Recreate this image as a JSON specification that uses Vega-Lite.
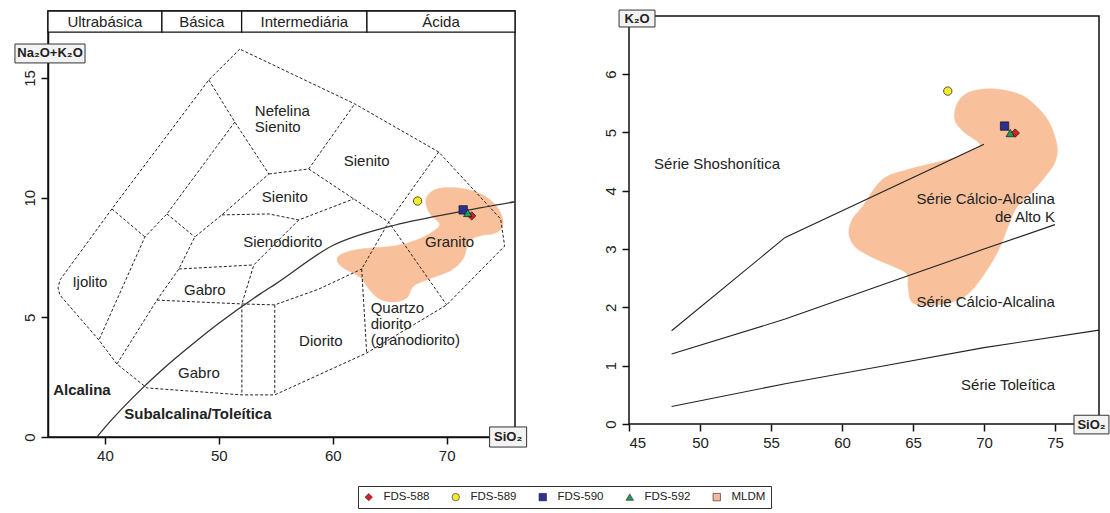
{
  "$schema": "https://vega.github.io/schema/vega-lite/v6.json",
  "background": "white",
  "padding": {"left": 13, "top": 9, "right": 3, "bottom": 6},
  "bounds": "flush",
  "spacing": 114,
  "config": {
    "font": "Liberation Sans, Arial, sans-serif",
    "view": {"stroke": "#111", "strokeWidth": 1.5},
    "axis": {"grid": false, "title": null, "domainColor": "#111", "domainWidth": 1.5, "tickColor": "#111", "tickWidth": 1.5, "tickSize": 7, "labelFontSize": 15, "labelColor": "#222", "labelPadding": 4},
    "text": {"fontSize": 15, "color": "#222"},
    "legend": {"orient": "none", "legendX": 310, "legendY": 475, "direction": "horizontal", "title": null, "strokeColor": "#333", "strokeWidth": 1, "padding": 5, "labelFontSize": 11.5, "labelColor": "#222", "symbolSize": 55, "columnPadding": 20, "labelOffset": 9, "symbolStrokeWidth": 0.6, "symbolStrokeColor": "#222"}
  },
  "datasets": {
    "pts": [
      {"amostra": "FDS-588", "sio2": 72.2, "alk": 9.24, "k2o": 4.99},
      {"amostra": "FDS-589", "sio2": 67.45, "alk": 9.86, "k2o": 5.71},
      {"amostra": "FDS-590", "sio2": 71.45, "alk": 9.49, "k2o": 5.11},
      {"amostra": "FDS-592", "sio2": 71.85, "alk": 9.36, "k2o": 4.99}
    ],
    "tas_dash": [
      {"seg": "S1", "i": 1, "x": 51.84, "y": 16.21}, {"seg": "S1", "i": 2, "x": 49.12, "y": 14.92}, {"seg": "S1", "i": 3, "x": 40.61, "y": 9.53}, {"seg": "S1", "i": 4, "x": 36.05, "y": 6.56}, {"seg": "S1", "i": 5, "x": 35.88, "y": 6.23}, {"seg": "S1", "i": 6, "x": 36.05, "y": 5.93}, {"seg": "S1", "i": 7, "x": 39.47, "y": 4.05}, {"seg": "S1", "i": 8, "x": 41.05, "y": 3.05}, {"seg": "S1", "i": 9, "x": 43.68, "y": 2.05}, {"seg": "S1", "i": 10, "x": 52.02, "y": 1.76}, {"seg": "S1", "i": 11, "x": 54.91, "y": 1.76}, {"seg": "S1", "i": 12, "x": 62.98, "y": 3.51}, {"seg": "S1", "i": 13, "x": 70.0, "y": 5.52}, {"seg": "S1", "i": 14, "x": 75.09, "y": 7.98}, {"seg": "S1", "i": 15, "x": 74.74, "y": 9.11}, {"seg": "S1", "i": 16, "x": 69.3, "y": 11.91}, {"seg": "S1", "i": 17, "x": 61.93, "y": 13.92}, {"seg": "S1", "i": 18, "x": 51.84, "y": 16.21},
      {"seg": "S2", "i": 1, "x": 49.12, "y": 14.92}, {"seg": "S2", "i": 2, "x": 51.4, "y": 13.16}, {"seg": "S2", "i": 3, "x": 54.39, "y": 10.99}, {"seg": "S2", "i": 4, "x": 50.26, "y": 9.28}, {"seg": "S2", "i": 5, "x": 47.89, "y": 8.36}, {"seg": "S2", "i": 6, "x": 46.49, "y": 7.02}, {"seg": "S2", "i": 7, "x": 44.56, "y": 5.72}, {"seg": "S2", "i": 8, "x": 41.05, "y": 3.05},
      {"seg": "S3", "i": 1, "x": 51.4, "y": 13.16}, {"seg": "S3", "i": 2, "x": 45.44, "y": 9.32}, {"seg": "S3", "i": 3, "x": 43.51, "y": 8.36}, {"seg": "S3", "i": 4, "x": 39.47, "y": 4.05},
      {"seg": "S4", "i": 1, "x": 40.61, "y": 9.53}, {"seg": "S4", "i": 2, "x": 43.51, "y": 8.36},
      {"seg": "S5", "i": 1, "x": 45.44, "y": 9.32}, {"seg": "S5", "i": 2, "x": 47.89, "y": 8.36},
      {"seg": "S6", "i": 1, "x": 54.39, "y": 10.99}, {"seg": "S6", "i": 2, "x": 57.89, "y": 11.2}, {"seg": "S6", "i": 3, "x": 61.93, "y": 13.92},
      {"seg": "S7", "i": 1, "x": 57.89, "y": 11.2}, {"seg": "S7", "i": 2, "x": 61.84, "y": 9.95}, {"seg": "S7", "i": 3, "x": 64.91, "y": 8.98}, {"seg": "S7", "i": 4, "x": 70.0, "y": 5.52},
      {"seg": "S8", "i": 1, "x": 69.3, "y": 11.91}, {"seg": "S8", "i": 2, "x": 64.91, "y": 8.98}, {"seg": "S8", "i": 3, "x": 62.54, "y": 7.02},
      {"seg": "S9", "i": 1, "x": 50.26, "y": 9.28}, {"seg": "S9", "i": 2, "x": 54.39, "y": 9.32}, {"seg": "S9", "i": 3, "x": 57.02, "y": 9.07}, {"seg": "S9", "i": 4, "x": 61.84, "y": 9.95},
      {"seg": "S10", "i": 1, "x": 57.02, "y": 9.07}, {"seg": "S10", "i": 2, "x": 53.07, "y": 7.19}, {"seg": "S10", "i": 3, "x": 52.02, "y": 5.56}, {"seg": "S10", "i": 4, "x": 52.02, "y": 1.76},
      {"seg": "S11", "i": 1, "x": 46.49, "y": 7.02}, {"seg": "S11", "i": 2, "x": 53.07, "y": 7.19},
      {"seg": "S12", "i": 1, "x": 44.56, "y": 5.72}, {"seg": "S12", "i": 2, "x": 52.02, "y": 5.56}, {"seg": "S12", "i": 3, "x": 54.91, "y": 5.52}, {"seg": "S12", "i": 4, "x": 58.77, "y": 6.18}, {"seg": "S12", "i": 5, "x": 62.54, "y": 7.02},
      {"seg": "S13", "i": 1, "x": 54.91, "y": 5.52}, {"seg": "S13", "i": 2, "x": 54.91, "y": 1.76},
      {"seg": "S14", "i": 1, "x": 62.54, "y": 7.02}, {"seg": "S14", "i": 2, "x": 62.98, "y": 3.51}
    ],
    "tas_solid": [
      {"i": 1, "x": 39.3, "y": 0}, {"i": 2, "x": 40, "y": 0.4}, {"i": 3, "x": 43.2, "y": 2.0}, {"i": 4, "x": 45, "y": 2.8}, {"i": 5, "x": 48, "y": 4.0}, {"i": 6, "x": 50, "y": 4.75}, {"i": 7, "x": 53.7, "y": 6.0}, {"i": 8, "x": 55, "y": 6.4}, {"i": 9, "x": 60, "y": 8.0}, {"i": 10, "x": 65, "y": 8.8}, {"i": 11, "x": 71, "y": 9.4}, {"i": 12, "x": 76, "y": 9.83}
    ],
    "blobL": [
      {"i": 1, "x": 68.25, "y": 10.03}, {"i": 2, "x": 69.12, "y": 10.36}, {"i": 3, "x": 70.88, "y": 10.41}, {"i": 4, "x": 72.81, "y": 10.2}, {"i": 5, "x": 74.12, "y": 9.78}, {"i": 6, "x": 74.82, "y": 9.28}, {"i": 7, "x": 74.91, "y": 8.82}, {"i": 8, "x": 74.3, "y": 8.52}, {"i": 9, "x": 72.89, "y": 8.4}, {"i": 10, "x": 71.93, "y": 8.15}, {"i": 11, "x": 71.49, "y": 7.48}, {"i": 12, "x": 70.44, "y": 6.98}, {"i": 13, "x": 68.68, "y": 6.64}, {"i": 14, "x": 67.11, "y": 6.31}, {"i": 15, "x": 66.49, "y": 5.81}, {"i": 16, "x": 65.35, "y": 5.64}, {"i": 17, "x": 64.12, "y": 5.77}, {"i": 18, "x": 63.25, "y": 6.14}, {"i": 19, "x": 62.37, "y": 6.69}, {"i": 20, "x": 61.23, "y": 6.98}, {"i": 21, "x": 60.53, "y": 7.23}, {"i": 22, "x": 60.44, "y": 7.52}, {"i": 23, "x": 61.23, "y": 7.73}, {"i": 24, "x": 62.54, "y": 7.86}, {"i": 25, "x": 65.35, "y": 7.98}, {"i": 26, "x": 67.37, "y": 8.23}, {"i": 27, "x": 68.86, "y": 8.61}, {"i": 28, "x": 69.39, "y": 8.9}, {"i": 29, "x": 68.68, "y": 9.24}, {"i": 30, "x": 68.25, "y": 9.61}
    ],
    "blobR": [
      {"i": 1, "x": 68.94, "y": 5.69}, {"i": 2, "x": 70.56, "y": 5.75}, {"i": 3, "x": 72.46, "y": 5.66}, {"i": 4, "x": 73.59, "y": 5.47}, {"i": 5, "x": 74.58, "y": 5.18}, {"i": 6, "x": 75.14, "y": 4.78}, {"i": 7, "x": 75.0, "y": 4.49}, {"i": 8, "x": 74.3, "y": 4.24}, {"i": 9, "x": 73.38, "y": 3.98}, {"i": 10, "x": 72.32, "y": 3.72}, {"i": 11, "x": 71.62, "y": 3.34}, {"i": 12, "x": 71.06, "y": 3.0}, {"i": 13, "x": 70.21, "y": 2.64}, {"i": 14, "x": 69.01, "y": 2.26}, {"i": 15, "x": 67.75, "y": 2.09}, {"i": 16, "x": 65.99, "y": 2.04}, {"i": 17, "x": 64.93, "y": 2.09}, {"i": 18, "x": 64.65, "y": 2.35}, {"i": 19, "x": 64.58, "y": 2.57}, {"i": 20, "x": 63.73, "y": 2.69}, {"i": 21, "x": 62.11, "y": 2.86}, {"i": 22, "x": 60.92, "y": 3.04}, {"i": 23, "x": 60.49, "y": 3.26}, {"i": 24, "x": 60.7, "y": 3.5}, {"i": 25, "x": 61.41, "y": 3.72}, {"i": 26, "x": 62.82, "y": 4.19}, {"i": 27, "x": 64.58, "y": 4.36}, {"i": 28, "x": 66.55, "y": 4.48}, {"i": 29, "x": 68.1, "y": 4.58}, {"i": 30, "x": 69.15, "y": 4.7}, {"i": 31, "x": 69.72, "y": 4.8}, {"i": 32, "x": 68.59, "y": 5.01}, {"i": 33, "x": 67.96, "y": 5.21}, {"i": 34, "x": 68.1, "y": 5.49}
    ],
    "k_lines": [
      {"seg": "shosh", "i": 1, "x": 48, "y": 1.6}, {"seg": "shosh", "i": 2, "x": 56, "y": 3.2}, {"seg": "shosh", "i": 3, "x": 70, "y": 4.8},
      {"seg": "highk", "i": 1, "x": 48, "y": 1.2}, {"seg": "highk", "i": 2, "x": 56, "y": 1.8}, {"seg": "highk", "i": 3, "x": 63, "y": 2.4}, {"seg": "highk", "i": 4, "x": 70, "y": 3.0}, {"seg": "highk", "i": 5, "x": 75, "y": 3.42},
      {"seg": "thol", "i": 1, "x": 48, "y": 0.3}, {"seg": "thol", "i": 2, "x": 56, "y": 0.69}, {"seg": "thol", "i": 3, "x": 63, "y": 1.0}, {"seg": "thol", "i": 4, "x": 70, "y": 1.31}, {"seg": "thol", "i": 5, "x": 78.1, "y": 1.61}
    ],
    "header": [
      {"t": "Ultrabásica", "x1": 35, "x2": 45, "xm": 40},
      {"t": "Básica", "x1": 45, "x2": 52, "xm": 48.5},
      {"t": "Intermediária", "x1": 52, "x2": 63, "xm": 57.5},
      {"t": "Ácida", "x1": 63, "x2": 76, "xm": 69.5}
    ],
    "labL_c": [
      {"t": "Sienito", "x": 62.98, "y": 11.53},
      {"t": "Sienito", "x": 55.79, "y": 10.03},
      {"t": "Sienodiorito", "x": 55.61, "y": 8.15},
      {"t": "Gabro", "x": 48.77, "y": 6.14},
      {"t": "Gabro", "x": 48.25, "y": 2.67},
      {"t": "Ijolito", "x": 38.68, "y": 6.48},
      {"t": "Diorito", "x": 58.95, "y": 4.01},
      {"t": "Granito", "x": 70.26, "y": 8.15}
    ],
    "labL_l": [
      {"t": "Nefelina\nSienito", "x": 53.16, "y": 13.62},
      {"t": "Quartzo\ndiorito\n(granodiorito)", "x": 63.33, "y": 5.39}
    ],
    "labL_b": [
      {"t": "Alcalina", "x": 37.98, "y": 1.96},
      {"t": "Subalcalina/Toleítica", "x": 48.16, "y": 0.96}
    ],
    "boxL": [
      {"t": "Na₂O+K₂O", "x1": 32.1, "x2": 38.25, "y1": 15.63, "y2": 16.42, "xm": 35.18, "ym": 16.03},
      {"t": "SiO₂", "x1": 73.77, "x2": 77.02, "y1": -0.42, "y2": 0.42, "xm": 75.4, "ym": 0}
    ],
    "boxR": [
      {"t": "K₂O", "x1": 44.3, "x2": 46.83, "y1": 6.81, "y2": 7.1, "xm": 45.57, "ym": 6.955},
      {"t": "SiO₂", "x1": 76.34, "x2": 78.8, "y1": -0.17, "y2": 0.15, "xm": 77.57, "ym": -0.01}
    ],
    "labR_r": [
      {"t": "Série Cálcio-Alcalina\nde Alto K", "x": 75.0, "y": 3.86},
      {"t": "Série Cálcio-Alcalina", "x": 75.0, "y": 2.09},
      {"t": "Série Toleítica", "x": 75.0, "y": 0.67}
    ],
    "labR_c": [
      {"t": "Série Shoshonítica", "x": 51.2, "y": 4.46}
    ]
  },
  "hconcat": [
    {
      "width": 467,
      "height": 426,
      "encoding": {
        "x": {"type": "quantitative", "scale": {"domain": [35, 76], "zero": false, "nice": false}, "axis": {"values": [40, 50, 60, 70]}},
        "y": {"type": "quantitative", "scale": {"domain": [0, 17.8], "zero": false, "nice": false}, "axis": {"values": [0, 5, 10, 15], "labelAngle": 270, "labelAlign": "center", "labelBaseline": "bottom"}}
      },
      "layer": [
        {
          "data": {"name": "blobL"},
          "mark": {"type": "line", "interpolate": "cardinal-closed", "fill": "#f8c19c", "stroke": "#f8c19c", "strokeWidth": 0.5},
          "encoding": {"x": {"field": "x"}, "y": {"field": "y"}, "order": {"field": "i"}}
        },
        {
          "data": {"name": "tas_dash"},
          "mark": {"type": "line", "color": "#222", "strokeWidth": 1, "strokeDash": [3, 2]},
          "encoding": {"x": {"field": "x"}, "y": {"field": "y"}, "detail": {"field": "seg"}, "order": {"field": "i"}}
        },
        {
          "data": {"name": "tas_solid"},
          "mark": {"type": "line", "color": "#333", "strokeWidth": 1.3, "interpolate": "monotone"},
          "encoding": {"x": {"field": "x"}, "y": {"field": "y"}, "order": {"field": "i"}}
        },
        {
          "data": {"name": "header"},
          "mark": {"type": "rect", "fill": "white", "stroke": "#111", "strokeWidth": 1.3},
          "encoding": {"x": {"field": "x1"}, "x2": {"field": "x2"}, "y": {"datum": 16.92}, "y2": {"datum": 17.8}}
        },
        {
          "data": {"name": "header"},
          "mark": {"type": "text", "baseline": "middle", "align": "center"},
          "encoding": {"x": {"field": "xm"}, "y": {"datum": 17.36}, "text": {"field": "t"}}
        },
        {
          "data": {"name": "labL_c"},
          "mark": {"type": "text", "baseline": "middle", "align": "center"},
          "encoding": {"x": {"field": "x"}, "y": {"field": "y"}, "text": {"field": "t"}}
        },
        {
          "data": {"name": "labL_l"},
          "mark": {"type": "text", "baseline": "middle", "align": "left", "lineBreak": "\n", "lineHeight": 16},
          "encoding": {"x": {"field": "x"}, "y": {"field": "y"}, "text": {"field": "t"}}
        },
        {
          "data": {"name": "labL_b"},
          "mark": {"type": "text", "baseline": "middle", "align": "center", "fontWeight": "bold"},
          "encoding": {"x": {"field": "x"}, "y": {"field": "y"}, "text": {"field": "t"}}
        },
        {
          "data": {"name": "boxL"},
          "mark": {"type": "rect", "fill": "#f3f3f3", "stroke": "#333", "strokeWidth": 1},
          "encoding": {"x": {"field": "x1"}, "x2": {"field": "x2"}, "y": {"field": "y1"}, "y2": {"field": "y2"}}
        },
        {
          "data": {"name": "boxL"},
          "mark": {"type": "text", "baseline": "middle", "align": "center", "fontWeight": "bold", "fontSize": 13},
          "encoding": {"x": {"field": "xm"}, "y": {"field": "ym"}, "text": {"field": "t"}}
        },
        {
          "data": {"name": "pts"},
          "mark": {"type": "point", "filled": true, "size": 70, "stroke": "#111", "strokeWidth": 0.7, "opacity": 1},
          "encoding": {
            "x": {"field": "sio2"},
            "y": {"field": "alk"},
            "color": {"field": "amostra", "type": "nominal", "scale": {"domain": ["FDS-588", "FDS-589", "FDS-590", "FDS-592", "MLDM"], "range": ["#d42127", "#f2ec2e", "#2e3192", "#1f9e5a", "#f5b8a2"]}},
            "shape": {"field": "amostra", "type": "nominal", "scale": {"domain": ["FDS-588", "FDS-589", "FDS-590", "FDS-592", "MLDM"], "range": ["diamond", "circle", "square", "triangle-up", "square"]}}
          }
        }
      ]
    },
    {
      "width": 470,
      "height": 413,
      "view": {"stroke": null},
      "encoding": {
        "x": {"type": "quantitative", "scale": {"domain": [45, 78.1], "zero": false, "nice": false}, "axis": {"values": [45, 50, 55, 60, 65, 70, 75], "domain": false}},
        "y": {"type": "quantitative", "scale": {"domain": [0, 7.084], "zero": false, "nice": false}, "axis": {"values": [0, 1, 2, 3, 4, 5, 6], "domain": false, "labelAngle": 270, "labelAlign": "center", "labelBaseline": "bottom"}}
      },
      "layer": [
        {
          "data": {"name": "blobR"},
          "mark": {"type": "line", "interpolate": "cardinal-closed", "fill": "#f8c19c", "stroke": "#f8c19c", "strokeWidth": 0.5},
          "encoding": {"x": {"field": "x"}, "y": {"field": "y"}, "order": {"field": "i"}}
        },
        {
          "data": {"name": "k_lines"},
          "mark": {"type": "line", "color": "#222", "strokeWidth": 1.1},
          "encoding": {"x": {"field": "x"}, "y": {"field": "y"}, "detail": {"field": "seg"}, "order": {"field": "i"}}
        },
        {
          "data": {"values": [{"x1": 45, "x2": 78.1, "y1": 0, "y2": 7}]},
          "mark": {"type": "rect", "filled": false, "stroke": "#111", "strokeWidth": 1.5},
          "encoding": {"x": {"field": "x1"}, "x2": {"field": "x2"}, "y": {"field": "y1"}, "y2": {"field": "y2"}}
        },
        {
          "data": {"name": "labR_r"},
          "mark": {"type": "text", "baseline": "middle", "align": "right", "lineBreak": "\n", "lineHeight": 18},
          "encoding": {"x": {"field": "x"}, "y": {"field": "y"}, "text": {"field": "t"}}
        },
        {
          "data": {"name": "labR_c"},
          "mark": {"type": "text", "baseline": "middle", "align": "center"},
          "encoding": {"x": {"field": "x"}, "y": {"field": "y"}, "text": {"field": "t"}}
        },
        {
          "data": {"name": "boxR"},
          "mark": {"type": "rect", "fill": "#f3f3f3", "stroke": "#333", "strokeWidth": 1},
          "encoding": {"x": {"field": "x1"}, "x2": {"field": "x2"}, "y": {"field": "y1"}, "y2": {"field": "y2"}}
        },
        {
          "data": {"name": "boxR"},
          "mark": {"type": "text", "baseline": "middle", "align": "center", "fontWeight": "bold", "fontSize": 13},
          "encoding": {"x": {"field": "xm"}, "y": {"field": "ym"}, "text": {"field": "t"}}
        },
        {
          "data": {"name": "pts"},
          "mark": {"type": "point", "filled": true, "size": 70, "stroke": "#111", "strokeWidth": 0.7, "opacity": 1},
          "encoding": {
            "x": {"field": "sio2"},
            "y": {"field": "k2o"},
            "color": {"field": "amostra", "type": "nominal", "scale": {"domain": ["FDS-588", "FDS-589", "FDS-590", "FDS-592", "MLDM"], "range": ["#d42127", "#f2ec2e", "#2e3192", "#1f9e5a", "#f5b8a2"]}},
            "shape": {"field": "amostra", "type": "nominal", "scale": {"domain": ["FDS-588", "FDS-589", "FDS-590", "FDS-592", "MLDM"], "range": ["diamond", "circle", "square", "triangle-up", "square"]}}
          }
        }
      ]
    }
  ]
}
